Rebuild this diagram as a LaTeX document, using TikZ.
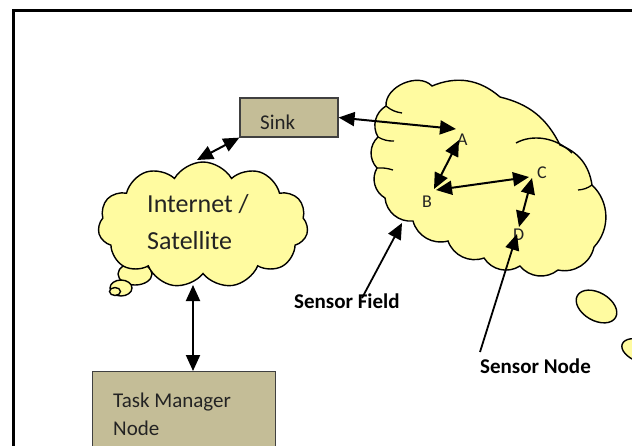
\documentclass[tikz,border=0pt]{standalone}
\usepackage{fontspec}
\setmainfont{Carlito}
\usetikzlibrary{shapes.symbols,shapes.geometric,arrows.meta}
\definecolor{cloudy}{RGB}{255,251,160}
\definecolor{boxtan}{RGB}{196,189,151}
\definecolor{txt}{RGB}{35,35,35}
\begin{document}
\begin{tikzpicture}[x=1pt,y=-1pt,
  bigtip/.tip={Triangle[length=16pt,width=14pt]},
  link/.style={line width=2pt,bigtip-bigtip},
  pointer/.style={line width=1.8pt,-bigtip},
  boxsh/.style={draw=black!75,line width=1.2pt,fill=boxtan,inner sep=0pt},
  bubble/.style={draw=black,line width=1.4pt,fill=cloudy},
  outline/.style={draw=black,line width=1.4pt},
  curl/.style={draw=black,line width=1.3pt},
  inetcloud/.style={cloud,cloud ignores aspect,cloud puffs=11,cloud puff arc=120,
     minimum width=210,minimum height=126,inner sep=0pt},
  lbl/.style={font=\fontsize{21}{25}\selectfont,text=txt,inner sep=0pt,anchor=base west},
  blbl/.style={font=\fontsize{21}{25}\selectfont\bfseries,text=black,inner sep=0pt,anchor=base west},
  small/.style={font=\fontsize{18}{20}\selectfont,text=txt,inner sep=0pt,anchor=base west},
]
\useasboundingbox (0,0) rectangle (632,445);
\clip (0,0) rectangle (632,445);
\fill[white] (0,0) rectangle (632,445);
\draw[line width=2.4pt] (13.5,10.5) rectangle (680,480);

% sensor field (merged clouds)
\path[outline,fill=cloudy] (386,106) to[bend left=70] (432,86) to[bend left=32] (500,97)
  to[bend left=25] (560,145) to[bend left=30] (592,185) to[bend left=45] (594,247)
  to[bend left=45] (558,270) to[bend left=45] (520,266) to[bend left=45] (484,258)
  to[bend left=45] (448,241) to[bend left=45] (413,221) to[bend left=45] (385,198)
  to[bend left=45] (377,168) to[bend left=45] (378,137) to[bend left=45] (386,106) -- cycle;
\path[outline] (516,143) .. controls (532,134) and (556,137) .. (572,153);
\path[curl] (386,106) to[bend right=15] (402,113);
\path[curl] (378,137) to[bend right=15] (394,141);
\path[curl] (377,168) to[bend left=10] (393,170);
\path[curl] (592,185) to[bend left=15] (578,190);

% small ellipses at right
\node[bubble,ellipse,minimum width=44,minimum height=28,inner sep=0pt,rotate=-30] (e1) at (596.5,306.5) {};
\node[bubble,ellipse,minimum width=40,minimum height=22,inner sep=0pt,rotate=-20] (e2) at (641,351) {};

% thought bubbles
\node[bubble,ellipse,minimum width=34,minimum height=22,inner sep=0pt] (b1) at (135,274) {};
\node[bubble,ellipse,minimum width=22,minimum height=16,inner sep=0pt] (b2) at (121,288) {};
\node[bubble,ellipse,minimum width=11,minimum height=8,inner sep=0pt] (b3) at (115,291.5) {};

% internet cloud
\node[inetcloud,draw,line width=1.4pt,fill=cloudy] (inet) at (203,225) {};
\node[lbl,font=\fontsize{26}{30}\selectfont] (inettxt1) at (147,212) {Internet /};
\node[lbl,font=\fontsize{26}{30}\selectfont] (inettxt2) at (147,249) {Satellite};

% boxes
\node[boxsh,minimum width=98,minimum height=39] (sink) at (289,117.5) {};
\node[lbl] (sinktxt) at (260,129) {Sink};
\node[boxsh,minimum width=183,minimum height=100,anchor=north west] (task) at (92,371) {};
\node[lbl] (tasktxt1) at (113,407) {Task Manager};
\node[lbl] (tasktxt2) at (113,435) {Node};

% sensor labels
\node[small] (la) at (457,145) {A};
\node[small] (lb) at (422,207) {B};
\node[small] (lc) at (537,178) {C};
\node[small] (ld) at (513,240) {D};

\coordinate (aIn) at (456,129);
\coordinate (aUp) at (459,140);
\coordinate (bR) at (434,189);
\coordinate (bR2) at (436,190);
\coordinate (cL) at (529,177);
\coordinate (cD) at (532,178);
\coordinate (dU) at (519,227);
\coordinate (dTip) at (517,234);
\coordinate (inetN) at (197,160);
\coordinate (inetS) at (193,285);
\coordinate (taskN) at (193,371);
\coordinate (sfTip) at (402,223);
\coordinate (sfTail) at (362,298);
\coordinate (snTail) at (480,352);

% connectors
\draw[link] (sink.east) -- (aIn);
\draw[link] (inetN) -- (sink.south west);
\draw[link] (inetS) -- (taskN);
\draw[link] (aUp) -- (bR);
\draw[link] (bR2) -- (cL);
\draw[link] (cD) -- (dU);
\draw[pointer] (sfTail) -- (sfTip);
\draw[pointer] (snTail) -- (dTip);

\node[blbl] (sftxt) at (294,308) {Sensor Field};
\node[blbl] (sntxt) at (480,373) {Sensor Node};
\end{tikzpicture}
\end{document}
